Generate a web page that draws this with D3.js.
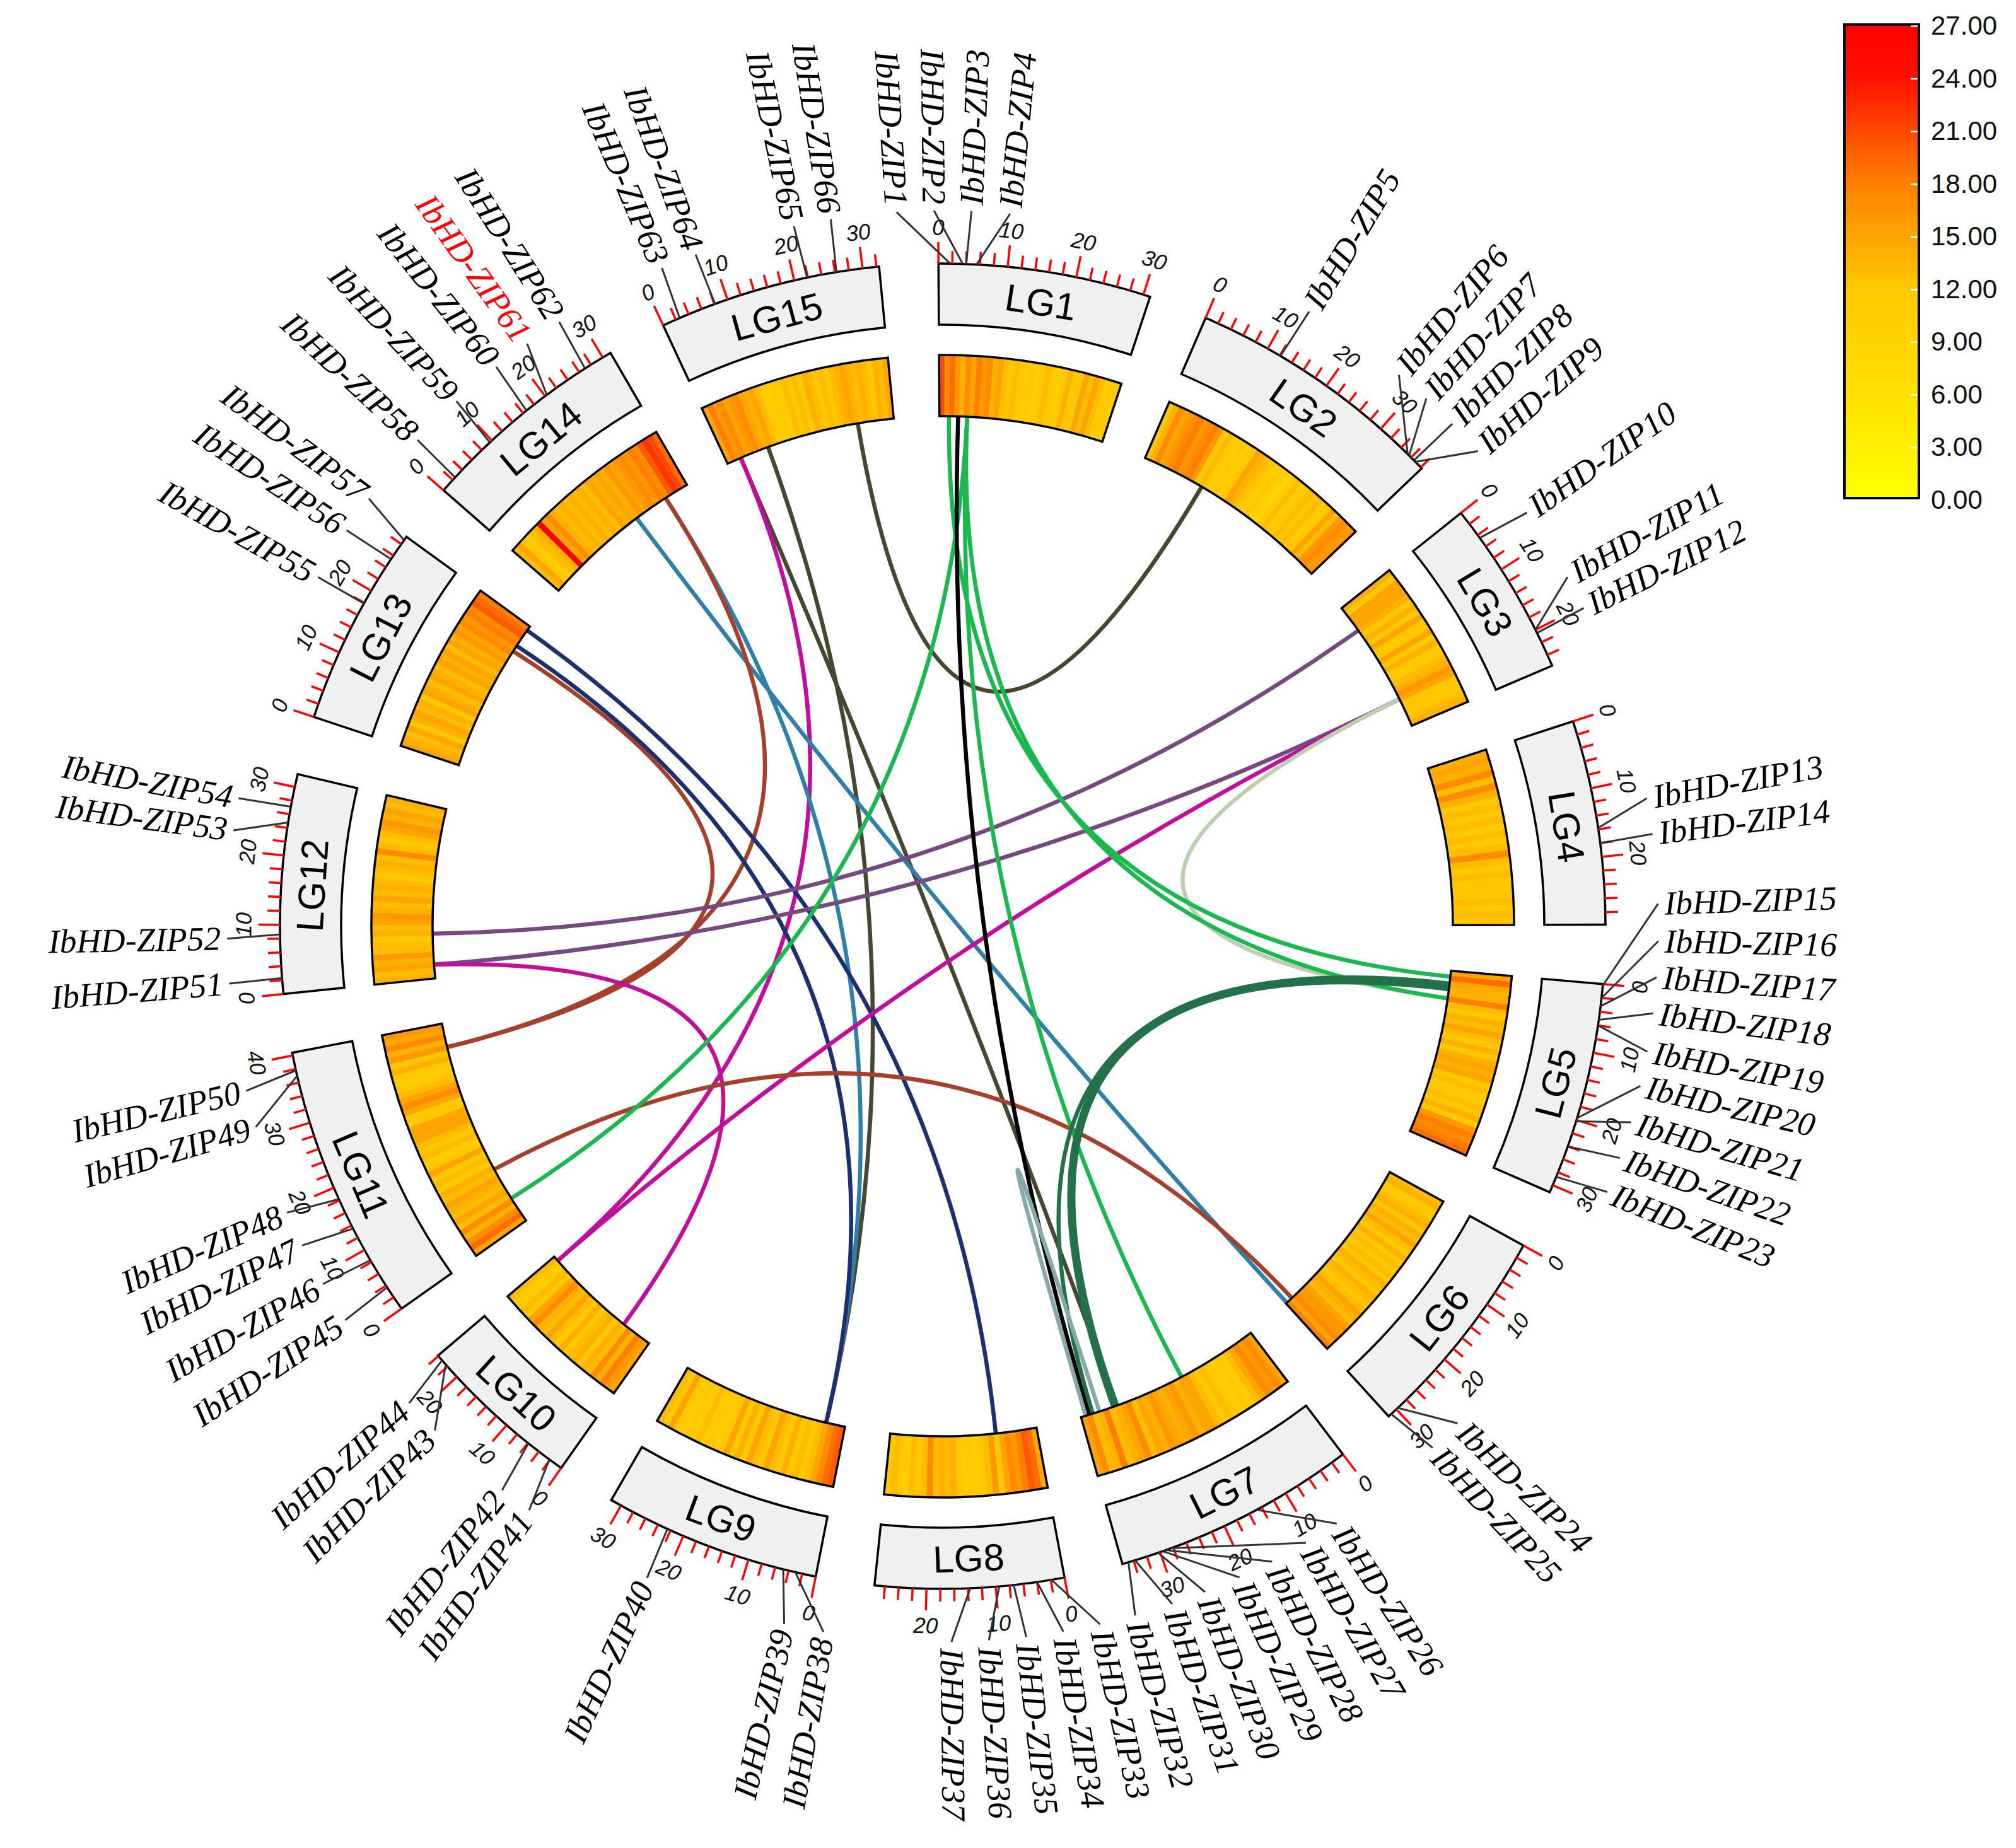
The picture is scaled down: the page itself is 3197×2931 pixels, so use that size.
<!DOCTYPE html>
<html>
<head>
<meta charset="utf-8">
<script src="https://cdn.jsdelivr.net/npm/d3@7"></script>
<style>
  html, body { margin: 0; background: #fff; }
  svg { display: block; }
</style>
</head>
<body>
<script>
// linkage groups, lengths in Mb
const chromNames = ["LG1","LG2","LG3","LG4","LG5","LG6","LG7","LG8","LG9","LG10","LG11","LG12","LG13","LG14","LG15"];
const chromLengths = [31,38.2,25.7,29.8,31.1,31.5,35.7,27.5,31.6,24.1,40.4,31.9,29.3,31.3,32.4];

// gene density per chromosome, from position 0 to the end
const density = [
  [21,17,19,16,14,17,15,18,16,17,14,15,13,12,13,12,11,12,11,12,13,12,11,12,14,12,12,15,13,15,13,11,12,11],
  [12,14,17,15,16,17,18,16,17,18,16,12,13,12,11,12,11,12,15,14,13,12,11,12,10,9,11,13,11,12,13,12,13,11,12,15,13,16,17,16,16],
  [14,12,15,15,15,14,12,14,12,15,12,12,15,12,14,12,12,13,14,16,15,12,12,12,13,14],
  [14,15,14,17,13,17,14,12,13,12,13,12,13,12,13,17,13,12,13,12,12,12,13,12,13,12],
  [15,19,15,14,14,18,13,12,14,13,15,13,12,14,12,14,15,14,15,12,13,12,12,13,12,14,12,16,18,17,18,19],
  [13,14,12,12,13,14,12,14,13,15,13,12,14,12,13,12,13,12,14,13,12,14,13,12,13,15,14,13,15,16,16,17,15,18],
  [15,17,16,17,15,13,11,12,11,12,13,12,13,15,15,14,16,15,14,15,16,14,15,13,17,15,14,13,18,14,13,17,15],
  [15,19,20,18,16,17,15,12,16,13,12,11,12,11,12,14,13,14,13,17,13,12,13,11,12,13,12],
  [20,19,17,15,13,12,13,12,14,12,13,15,12,13,15,12,14,12,15,12,11,12,11,13,11,12,11,12,15,12,13],
  [15,16,18,14,17,13,14,12,14,13,12,14,12,13,15,13,14,17,15,12,13,11,12,13],
  [15,19,17,14,17,13,15,13,14,15,13,14,12,13,12,15,12,11,13,12,13,15,15,15,12,12,15,17,15,13,12,11,12,14,12,16,14,17,15,16],
  [14,13,15,14,16,13,13,12,14,13,15,16,14,13,15,13,14,13,12,13,14,13,17,13,12,13,15,16,14,15,13,14],
  [15,14,13,15,12,14,15,13,14,12,15,14,13,15,14,13,15,14,15,13,15,14,16,15,17,16,18,17,20,19,18],
  [13,15,12,11,13,14,27,15,17,14,13,14,13,14,13,14,13,15,14,15,14,16,15,16,17,16,18,17,20,22,21,19],
  [15,18,16,17,15,16,17,15,14,15,13,11,11,12,11,13,12,13,12,14,13,12,13,12,13,14,15,14,13,14,13,12,14,13,15]
];

// IbHD-ZIP genes, index+1 is the gene number
const geneChrom = [0,0,0,0, 1,1,1,1,1, 2,2,2, 3,3, 4,4,4,4,4,4,4,4,4, 5,5, 6,6,6,6,6,6,6, 7,7,7,7,7, 8,8,8, 9,9,9,9, 10,10,10,10,10,10, 11,11,11,11, 12,12,12, 13,13,13,13,13, 14,14,14,14];
const genePos = [1.7,3.5,4,5.5, 12.1,35.3,35.6,36.6,36.9, 4.5,20,20.5, 15.8,18, 0.2,2,3.2,5.2,6,19.7,20.2,24,28.7, 29.7,31, 14.8,28.3,29.1,29.6,30.3,33.8,34.8, 1.9,4,7.4,9.5,13.7, 3,4.8,22.5, 2.1,5.9,22.4,23.2, 3.7,8.3,13.5,18.2,37,37.8, 2.3,8.6,24.8,27.1, 17.9,25.4,28.7, 2.5,9.6,16.6,20.3,27, 2.6,8.1,21.9,26.2];
const redGenes = [61];

// collinear pairs: chrom, pos, chrom, pos, kind, optional bend (0 = through the centre)
const links = [
  [14,25.6, 1,11.9, "olive"],
  [14,8.2, 8,3.6, "olive"],
  [14,2.7, 6,28.6, "olive"],
  [14,2.7, 9,23.1, "magenta"],
  [13,20, 5,31.3, "blue"],
  [13,26.6, 8,3.6, "blue"],
  [13,26.6, 10,35.9, "brown"],
  [12,23.7, 10,35.9, "brown"],
  [12,28.4, 7,7.7, "navy"],
  [12,24.9, 8,3.6, "navy"],
  [11,8.4, 2,5.2, "purple"],
  [11,2.6, 2,20.2, "purple"],
  [11,2.6, 9,5.9, "magenta", 0.12],
  [2,20.2, 9,23.1, "magenta"],
  [2,20.2, 4,5.2, "pale"],
  [10,11.3, 5,30, "brown"],
  [0,1.8, 4,1.1, "green"],
  [0,5.2, 4,5.2, "green"],
  [0,5.2, 10,5, "green"],
  [0,5.2, 6,15.4, "green"],
  [0,3.5, 6,34.1, "black"],
  [4,2.4, 6,33.4, "forestThin"],
  [4,3.1, 6,29, "forest"],
  [6,34.8, 6,32.1, "teal"]
];

const legendTicks = [0,3,6,9,12,15,18,21,24,27];

// layout, all in page pixels and degrees
const W = 3197, H = 2931, cx = 1495, cy = 1469;
const rBoxOut = 1051, rBoxIn = 954, rHeatOut = 906, rHeatIn = 809;
const rLabelLine = 1135, rLabelText = 1145;
const startDeg = -0.37, gapMb = 8.57;

// where each gene label sits, degrees clockwise from 12 o'clock
const labelDeg = [-3.7,-0.7,2.3,5.4, 30.8,39.6,42.5,45.4,48.4, 54.7,60.8,63.6, 79.7,82.6, 88.2,91.2,94.1,97,100.1,102.9,105.9,108.9,111.8, 134,136.8, 146.6,149.5,152.6,155.5,158.5,161.3,164.4, 167.3,170.3,173.3,176.3,179.3, 189.6,192.8,204.4, 215.3,218,225.2,228.2, 236.6,240,243.5,246.4,253.7,256.7, 265.4,269,277.7,280.3, 299.2,303.6,306.7, 312.8,317.2,321.4,324.5,327.6, 336.9,339.8,348,351];

const linkStyle = {
  olive: ["#47472f", 6.5], magenta: ["#bf0f9c", 6.5], blue: ["#2f7fa9", 6.5], brown: ["#a5412b", 6.5],
  navy: ["#1c2f6e", 6.5], purple: ["#764a80", 6.5], pale: ["#bcd0b0", 6.5], green: ["#1ab84f", 6.5],
  black: ["#000000", 6.5], forest: ["#237049", 13], forestThin: ["#237049", 6.5], teal: ["#86aaa8", 6.5]
};

const heatColor = d3.scaleLinear()
  .domain([0,6,12,18,24,27])
  .range(["#ffff00","#ffe000","#ffc800","#ff7f00","#ff1000","#ff0000"]);

const total = d3.sum(chromLengths) + gapMb * chromLengths.length;
const angle = d3.scaleLinear().domain([0,total]).range([startDeg, startDeg + 360]);

// chromosome start offsets on the shared scale
const offsets = [];
chromLengths.reduce((acc, len, i) => { offsets[i] = acc; return acc + len + gapMb; }, 0);

const deg = (c, pos) => angle(offsets[c] + pos);
const rad = d => d * Math.PI / 180;
const polar = (d, r) => d3.pointRadial(rad(d), r);
const readable = d => (d > 90 && d < 270) ? d - 180 : d;

const svg = d3.select("body").append("svg").attr("width", W).attr("height", H);
const g = svg.append("g").attr("transform", `translate(${cx},${cy})`);

const arc = d3.arc();

// links go under the rings, control point at the circle centre
const linkLayer = g.append("g").attr("fill", "none").attr("stroke-linejoin", "round");
links.forEach(l => {
  const a = polar(deg(l[0], l[1]), rHeatIn), b = polar(deg(l[2], l[3]), rHeatIn);
  const bend = l[5] || 0;
  const p = d3.path();
  p.moveTo(a[0], a[1]);
  p.quadraticCurveTo(bend * (a[0] + b[0]) / 2, bend * (a[1] + b[1]) / 2, b[0], b[1]);
  linkLayer.append("path").attr("d", p.toString())
    .attr("stroke", linkStyle[l[4]][0]).attr("stroke-width", linkStyle[l[4]][1]);
});

// heat ring
chromNames.forEach((name, c) => {
  const vals = density[c];
  const bin = chromLengths[c] / vals.length;
  const ring = g.append("g");
  ring.selectAll("path").data(vals).enter().append("path")
    .attr("d", (v, i) => arc({
      innerRadius: rHeatIn, outerRadius: rHeatOut,
      startAngle: rad(deg(c, i * bin)), endAngle: rad(deg(c, (i + 1) * bin) + 0.05)
    }))
    .attr("fill", v => heatColor(v));
  g.append("path")
    .attr("d", arc({innerRadius: rHeatIn, outerRadius: rHeatOut,
      startAngle: rad(deg(c, 0)), endAngle: rad(deg(c, chromLengths[c]))}))
    .attr("fill", "none").attr("stroke", "#000").attr("stroke-width", 3.5);
});

// grey chromosome boxes, names and ruler ticks
chromNames.forEach((name, c) => {
  const a0 = deg(c, 0), a1 = deg(c, chromLengths[c]);
  g.append("path")
    .attr("d", arc({innerRadius: rBoxIn, outerRadius: rBoxOut, startAngle: rad(a0), endAngle: rad(a1)}))
    .attr("fill", "#f0f0f0").attr("stroke", "#000").attr("stroke-width", 3.5);

  const mid = (a0 + a1) / 2, pm = polar(mid, (rBoxIn + rBoxOut) / 2);
  g.append("text")
    .attr("transform", `translate(${pm[0]},${pm[1]}) rotate(${readable(mid)})`)
    .attr("text-anchor", "middle").attr("dy", "0.36em")
    .style("font", "60px 'Liberation Sans'").attr("fill", "#000")
    .text(name);

  d3.range(0, chromLengths[c], 2).forEach(t => {
    const major = t % 10 === 0, d = deg(c, t);
    const p0 = polar(d, rBoxOut), p1 = polar(d, rBoxOut + (major ? 34 : 20));
    g.append("line").attr("x1", p0[0]).attr("y1", p0[1]).attr("x2", p1[0]).attr("y2", p1[1])
      .attr("stroke", "#ff0000").attr("stroke-width", 3.5);
    if (major) {
      const pt = polar(d, rBoxOut + 58);
      g.append("text")
        .attr("transform", `translate(${pt[0]},${pt[1]}) rotate(${readable(d)})`)
        .attr("text-anchor", "middle").attr("dy", "0.36em")
        .style("font", "italic 35px 'Liberation Sans'").attr("fill", "#111")
        .text(t);
    }
  });
});

// gene labels with leader lines
geneChrom.forEach((c, i) => {
  const d = deg(c, genePos[i]), ld = labelDeg[i];
  const p0 = polar(d, rBoxOut), p1 = polar(ld, rLabelLine), pt = polar(ld, rLabelText);
  g.append("line").attr("x1", p0[0]).attr("y1", p0[1]).attr("x2", p1[0]).attr("y2", p1[1])
    .attr("stroke", "#333").attr("stroke-width", 3);
  const rightSide = ld >= 0 && ld <= 185;
  g.append("text")
    .attr("transform", `translate(${pt[0]},${pt[1]}) rotate(${rightSide ? ld - 90 : ld + 90})`)
    .attr("text-anchor", rightSide ? "start" : "end").attr("dy", "0.33em")
    .style("font", "italic 53.5px 'Liberation Serif'")
    .attr("fill", redGenes.includes(i + 1) ? "#ff0000" : "#000")
    .text("IbHD-ZIP" + (i + 1));
});

// colour legend
const legY = d3.scaleLinear().domain([0,27]).range([793,41]);
const defs = svg.append("defs");
const grad = defs.append("linearGradient").attr("id", "heatGrad")
  .attr("x1", 0).attr("y1", 1).attr("x2", 0).attr("y2", 0);
heatColor.domain().forEach(v => {
  grad.append("stop").attr("offset", v / 27).attr("stop-color", heatColor(v));
});
svg.append("rect").attr("x", 2925).attr("y", 39).attr("width", 118).attr("height", 751)
  .attr("fill", "url(#heatGrad)").attr("stroke", "#000").attr("stroke-width", 4);
const legAxis = svg.append("g").attr("transform", "translate(3043,0)")
  .call(d3.axisRight(legY).tickValues(legendTicks).tickFormat(d3.format(".2f")).tickSize(0).tickPadding(19));
legAxis.select(".domain").remove();
legAxis.selectAll("text").style("font", "42px 'Liberation Sans'").attr("fill", "#111");
legAxis.selectAll("line").attr("x1", -13).attr("x2", -2).attr("stroke", "#fff").attr("stroke-width", 2.5);
</script>
</body>
</html>
